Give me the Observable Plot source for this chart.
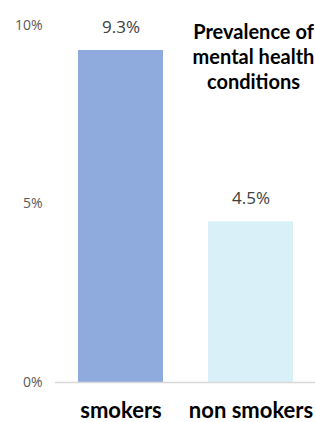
<!DOCTYPE html>
<html>
<head>
<meta charset="utf-8">
<script src="https://cdn.jsdelivr.net/npm/d3@7"></script>
<script src="https://cdn.jsdelivr.net/npm/@observablehq/plot@0.6"></script>
<style>
  html, body { margin: 0; padding: 0; background: #fff; }
</style>
</head>
<body>
<div id="chart"></div>
<script>
const categories = ["smokers", "non smokers"];
const values = [9.3, 4.5];
const barColors = ["#8FAADC", "#DAF0F8"];
const yTicks = [0, 5, 10];
const titleText = "Prevalence of\nmental health\nconditions";

const data = categories.map((c, i) => ({category: c, value: values[i], color: barColors[i]}));

const chart = Plot.plot({
  width: 315,
  height: 422,
  marginLeft: 55,
  marginRight: 0,
  marginTop: 25,
  marginBottom: 40,
  style: {fontFamily: "'Open Sans', sans-serif", background: "#fff"},
  x: {domain: categories, paddingInner: 0.35, paddingOuter: 0.175, label: null},
  y: {domain: [0, 10], label: null, axis: null},
  marks: [
    Plot.barY(data, {x: "category", y: "value", fill: "color"}),
    Plot.ruleY([0], {stroke: "#d9d9d9", strokeWidth: 1.5}),
    Plot.text(yTicks, {y: d => d, frameAnchor: "left", dx: -13, textAnchor: "end", text: d => d + "%", fontSize: 14, fill: "#595959"}),
    Plot.axisX({tickSize: 0, tickPadding: 20, fontSize: 22, fontWeight: "bold", fill: "#000", label: null, fontFamily: "Lato, sans-serif"}),
    Plot.text(data, {x: "category", y: "value", text: d => d.value.toFixed(1) + "%", dy: -23, fontSize: 17, fill: "#404040"}),
    Plot.text([titleText], {frameAnchor: "top-right", dx: -62, dy: -4, textAnchor: "middle", lineAnchor: "top", fontSize: 20, fontWeight: "bold", lineHeight: 1.25, fill: "#000", fontFamily: "Lato, sans-serif"})
  ]
});
document.getElementById("chart").appendChild(chart);
</script>
</body>
</html>
